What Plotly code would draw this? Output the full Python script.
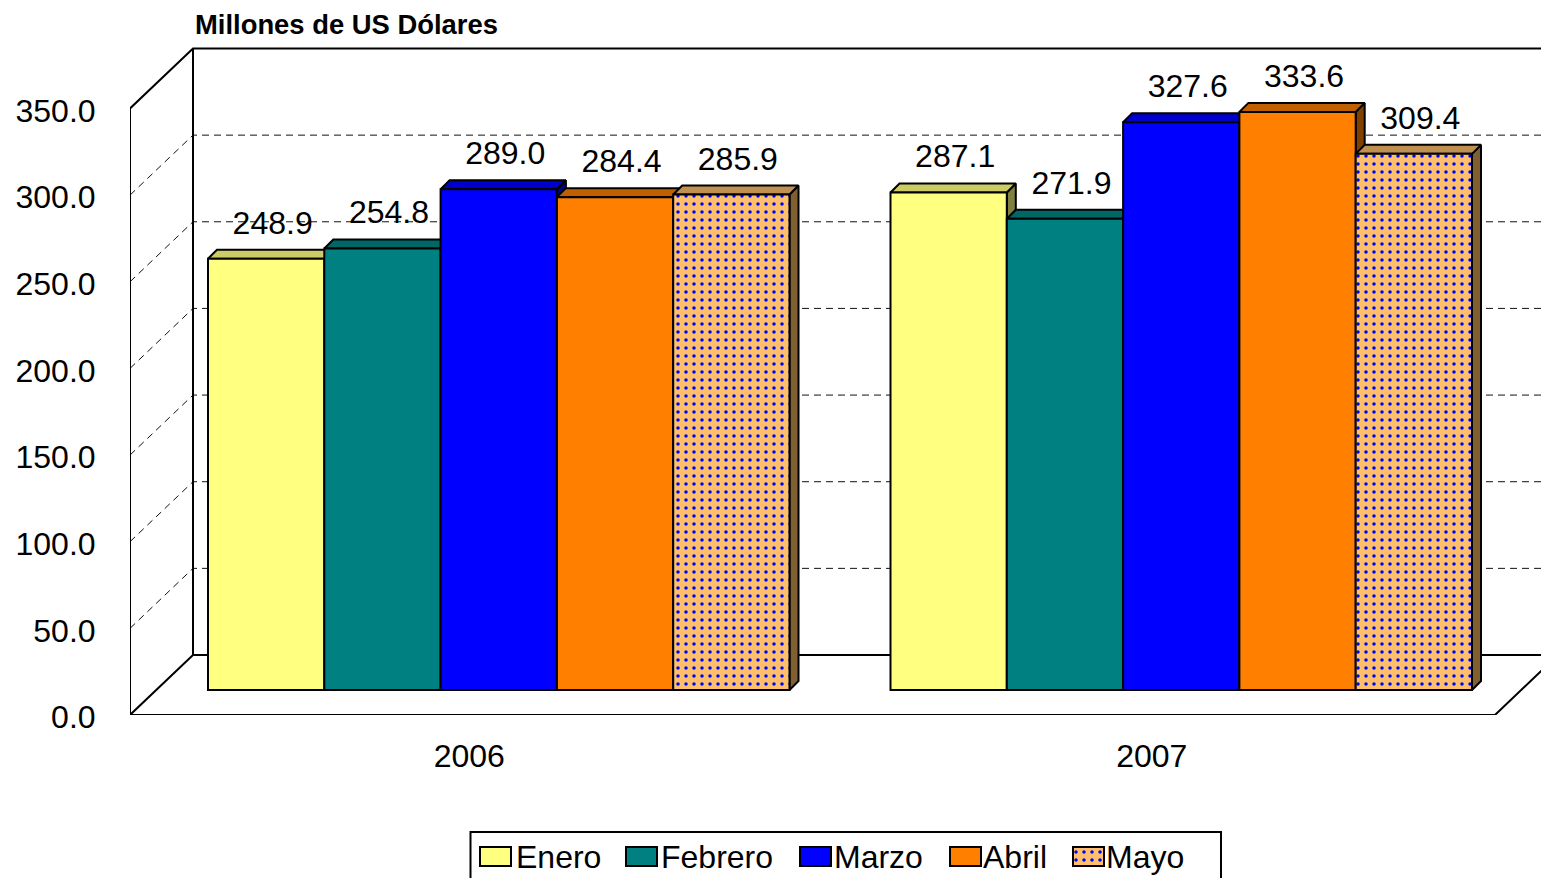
import plotly.graph_objects as go

# ---- data ----
years = ["2006", "2007"]
months = ["Enero", "Febrero", "Marzo", "Abril", "Mayo"]
enero = [248.9, 287.1]
febrero = [254.8, 271.9]
marzo = [289.0, 327.6]
abril = [284.4, 333.6]
mayo = [285.9, 309.4]
series = [enero, febrero, marzo, abril, mayo]
y_ticks = [0, 50, 100, 150, 200, 250, 300, 350]

# ---- styles ----
front = ["#FFFF80", "#008080", "#0000FF", "#FF8000", "#FFC06B"]
top = ["#CCCC66", "#006666", "#0000CC", "#C06000", "#BF9050"]
side = ["#808040", "#004C4C", "#000080", "#804000", "#806030"]
PATTERNED = 4

W, H = 1541, 878
PX_Y = 1.7329          # px per value unit
PX_X = 682.5           # px per category
AX_L, AX_B = 130, 715  # pixel position of axis origin

def ux(px):
    return px / PX_X

def uy(px):
    return px / PX_Y

x_min = -0.5
x_max = x_min + (W - AX_L) / PX_X
y_max = AX_B / PX_Y

wall_dx, wall_dy = ux(63), uy(60)
bar_shift_x, bar_shift_y = ux(27.5), uy(25)
bar_w = ux(116.3)
bar_dx, bar_dy = ux(9), uy(9)
label_dx, label_dy = ux(6.5), uy(33)
axis_end = 1.5

fig = go.Figure()

def line(xs, ys, z=0, width=2, dash=None, color="#000000"):
    fig.add_trace(go.Scatter(
        x=xs, y=ys, mode="lines", showlegend=False, hoverinfo="skip", zorder=z,
        line=dict(color=color, width=width, dash=dash),
    ))

# Dashed gridlines on the side and back walls
for v in y_ticks[1:-1]:
    line([x_min, x_min + wall_dx, x_max], [v, v + wall_dy, v + wall_dy],
         width=1, dash="7px,5px", color="#111111")

# Frame of walls and floor
line([x_min, x_min, x_min + wall_dx, x_max],
     [0, y_ticks[-1], y_ticks[-1] + wall_dy, y_ticks[-1] + wall_dy])
line([x_min + wall_dx, x_min + wall_dx], [wall_dy, y_ticks[-1] + wall_dy])
line([x_min, x_min + wall_dx, x_max], [0, wall_dy, wall_dy])
line([x_min, axis_end, axis_end + wall_dx], [0, 0, wall_dy])

dots = dict(shape=".", fgcolor="#0000FF", bgcolor=front[PATTERNED],
            size=8, solidity=0.15, fillmode="replace")

# Bars with their top and right faces, painted left to right
for i, (name, vals) in enumerate(zip(months, series)):
    offset = bar_shift_x + (i - 2) * bar_w
    tx, ty, sx, sy = [], [], [], []
    for g, v in enumerate(vals):
        l, r = g + offset - bar_w / 2, g + offset + bar_w / 2
        b, t = bar_shift_y, bar_shift_y + v
        tx += [l, r, r + bar_dx, l + bar_dx, l, None]
        ty += [t, t, t + bar_dy, t + bar_dy, t, None]
        sx += [r, r + bar_dx, r + bar_dx, r, r, None]
        sy += [b, b + bar_dy, t + bar_dy, t, b, None]
    for xs, ys, col in ((sx, sy, side[i]), (tx, ty, top[i])):
        fig.add_trace(go.Scatter(
            x=xs, y=ys, mode="lines", fill="toself", fillcolor=col,
            line=dict(color="#000000", width=2), showlegend=False,
            hoverinfo="skip", zorder=2 * i + 1,
        ))
    marker = dict(color=front[i], line=dict(color="#000000", width=2))
    if i == PATTERNED:
        marker["pattern"] = dots
    fig.add_trace(go.Bar(
        x=[g + offset for g in range(len(vals))], y=vals,
        base=[bar_shift_y] * len(vals), width=[bar_w] * len(vals),
        marker=marker, name=name, showlegend=False, zorder=2 * i + 2,
        xaxis="x", yaxis="y",
    ))

# Data labels
for i, vals in enumerate(series):
    offset = bar_shift_x + (i - 2) * bar_w + label_dx
    fig.add_trace(go.Scatter(
        x=[g + offset for g in range(len(vals))],
        y=[bar_shift_y + v + label_dy for v in vals],
        text=[f"{v:.1f}" for v in vals], mode="text", textposition="middle center",
        textfont=dict(size=32, color="#000000"), cliponaxis=False,
        showlegend=False, hoverinfo="skip", zorder=30,
    ))

# Legend, on an overlay subplot measured in figure pixels
leg_swatch_l = [480, 626, 800, 950, 1073]
leg_text_l = [516, 661, 834, 983, 1106]
for i, name in enumerate(months):
    marker = dict(color=front[i], line=dict(color="#000000", width=2))
    if i == PATTERNED:
        marker["pattern"] = dots
    fig.add_trace(go.Bar(
        x=[leg_swatch_l[i] + 15.5], y=[19], base=[847], width=[31],
        marker=marker, showlegend=False, xaxis="x2", yaxis="y2", hoverinfo="skip",
    ))

annotations = [
    dict(text="<b>Millones de US Dólares</b>", xref="x2", yref="y2", x=195, y=24,
         xanchor="left", yanchor="middle", showarrow=False, xshift=-2,
         font=dict(size=27.4, color="#000000")),
]
for name, x in zip(months, leg_text_l):
    annotations.append(dict(text=name, xref="x2", yref="y2", x=x, y=857,
                            xanchor="left", yanchor="middle", showarrow=False,
                            xshift=-2, font=dict(size=32, color="#000000")))

fig.update_layout(
    width=W, height=H, autosize=False, barmode="overlay",
    margin=dict(l=0, r=0, t=0, b=0),
    paper_bgcolor="#FFFFFF", plot_bgcolor="rgba(0,0,0,0)",
    font=dict(family="Liberation Sans, Arial, sans-serif", color="#000000"),
    showlegend=False,
    xaxis=dict(domain=[AX_L / W, 1], range=[x_min, x_max], tickmode="array",
               tickvals=[0, 1], ticktext=years, ticks="outside", ticklen=13,
               tickcolor="rgba(0,0,0,0)", tickfont=dict(size=32),
               showgrid=False, zeroline=False, showline=False, anchor="y",
               automargin=False, ticklabelshift=-2),
    yaxis=dict(domain=[(H - AX_B) / H, 1], range=[0, y_max], tickmode="array",
               tickvals=y_ticks, ticktext=[f"{v:.1f}" for v in y_ticks],
               ticks="outside", ticklen=27, tickcolor="rgba(0,0,0,0)",
               tickfont=dict(size=32), showgrid=False, zeroline=False,
               showline=False, anchor="x", automargin=False, ticklabelshift=2),
    xaxis2=dict(domain=[0, 1], range=[0, W], visible=False, anchor="y2", fixedrange=True),
    yaxis2=dict(domain=[0, 1], range=[H, 0], visible=False, anchor="x2", fixedrange=True),
    shapes=[dict(type="rect", xref="x2", yref="y2", x0=470.5, x1=1221, y0=832, y1=H + 10,
                 line=dict(color="#000000", width=2), fillcolor="rgba(0,0,0,0)",
                 layer="below")],
    annotations=annotations,
)

fig.write_html("out.html", config={"displayModeBar": False},
               post_script="document.body.style.margin='0';document.documentElement.style.overflow='hidden';")
